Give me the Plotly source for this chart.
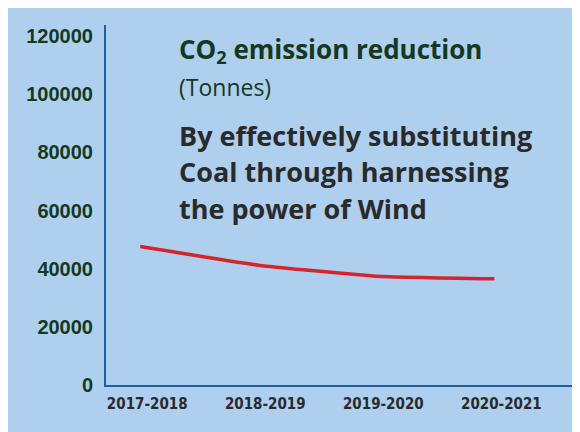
import plotly.graph_objects as go

years = ["2017-2018", "2018-2019", "2019-2020", "2020-2021"]
co2_reduction = [47600, 41200, 37400, 36500]
y_ticks = [0, 20000, 40000, 60000, 80000, 100000, 120000]
y_tick_labels = ["0", "20000", "40000", "60000", "80000", "100000", "120000"]

BG = "#AECFEE"
AXIS = "#1F5FAA"
GREEN = "#143820"
DARK = "#2A2A2A"

fig = go.Figure()
fig.add_trace(go.Scatter(
    x=years, y=co2_reduction, mode="lines",
    line=dict(color="#D7242B", width=3.5, shape="spline", smoothing=0.4),
    hoverinfo="x+y", showlegend=False,
))

fig.update_layout(
    width=580, height=432,
    margin=dict(l=98, r=11, t=17, b=55),
    paper_bgcolor=BG,
    plot_bgcolor=BG,
    showlegend=False,
    xaxis=dict(
        type="category", range=[-0.29, 3.70],
        showgrid=False, zeroline=False,
        showline=True, linecolor=AXIS, linewidth=2,
        ticks="", ticklabelshift=7, ticklabelstandoff=4,
        tickfont=dict(family="DejaVu Sans Condensed, Liberation Sans Narrow, Arial Narrow, sans-serif",
                      size=15, color=DARK, weight="bold"),
    ),
    yaxis=dict(
        range=[0, 123800],
        tickvals=y_ticks, ticktext=y_tick_labels,
        showgrid=False, zeroline=False,
        showline=True, linecolor=AXIS, linewidth=2,
        ticks="", ticklabelstandoff=7,
        tickfont=dict(family="Liberation Sans, Arial, sans-serif", size=20, color=GREEN, weight="bold"),
    ),
)

# positions below are measured in the reference image; plot area spans x 106..577, y 25..385
x_text = (177 - 106) / 471


def ypix(p):
    return (385 - p) / 360


fig.add_annotation(
    x=x_text, y=ypix(50), xref="paper", yref="paper", xanchor="left", yanchor="middle",
    text="<b>CO<sub>2</sub> emission reduction</b>", showarrow=False,
    font=dict(family="Open Sans, sans-serif", size=26, color=GREEN),
)
fig.add_annotation(
    x=x_text, y=ypix(87), xref="paper", yref="paper", xanchor="left", yanchor="middle",
    text="(Tonnes)", showarrow=False,
    font=dict(family="Open Sans, sans-serif", size=23, color=GREEN),
)
for i, line in enumerate(["By effectively substituting", "Coal through harnessing", "the power of Wind"]):
    fig.add_annotation(
        x=x_text, y=ypix(135 + 36.5 * i), xref="paper", yref="paper", xanchor="left", yanchor="middle",
        text="<b>" + line + "</b>", showarrow=False,
        font=dict(family="Open Sans, sans-serif", size=27, color=DARK),
    )

fig.write_html("out.html")
